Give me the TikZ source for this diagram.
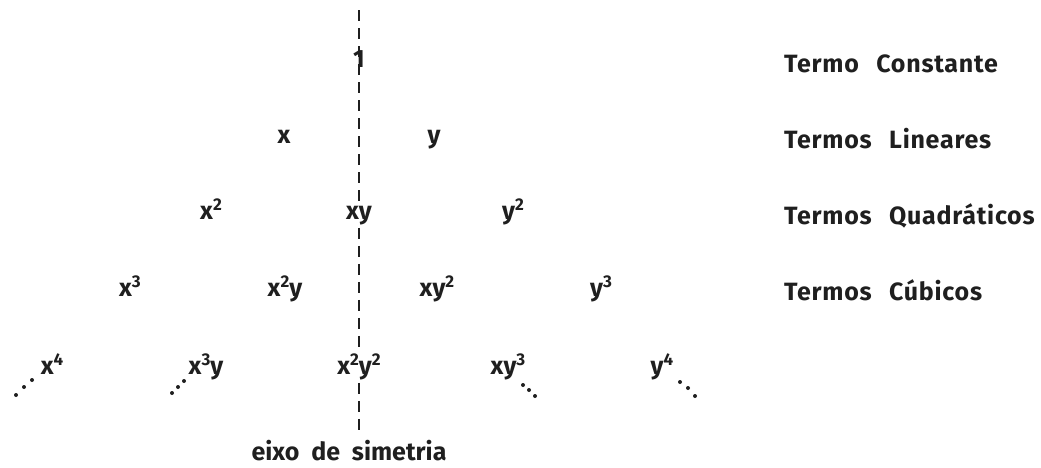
\documentclass[tikz,border=0pt]{standalone}
\usepackage{fontspec}
\setmainfont{Fira Sans}
\newcommand{\supr}[1]{\raisebox{9pt}{\fontsize{17}{17}\selectfont #1}}
\begin{document}
\begin{tikzpicture}[x=1pt,y=-1pt,
  term/.style={anchor=base,inner sep=1pt,font=\fontsize{25}{30}\selectfont\bfseries,text=black!88},
  axisterm/.style={term,inner sep=3pt},
  label/.style={anchor=base west,inner sep=0pt,font=\fontsize{25}{30}\selectfont\bfseries\addfontfeature{LetterSpace=3},text=black!88},
  axisline/.style={line width=1.8pt,dash pattern=on 11pt off 7pt,black!88},
  dotmark/.style={fill=black!88,draw=none}]
\useasboundingbox (0,0) rectangle (1041,467);
% row 0
\node[term] (c1) at (359,67) {1};
% row 1
\node[term] (r1x) at (284,143) {x};
\node[term] (r1y) at (434,143) {y};
% row 2
\node[term] (r2a) at (211,219) {x\supr{2}};
\node[axisterm] (r2b) at (359,219) {xy};
\node[term] (r2c) at (513,219) {y\supr{2}};
% row 3
\node[term] (r3a) at (130,296) {x\supr{3}};
\node[term] (r3b) at (285,296) {x\supr{2}y};
\node[term] (r3c) at (437,296) {xy\supr{2}};
\node[term] (r3d) at (601,296) {y\supr{3}};
% row 4
\node[term] (r4a) at (52,374) {x\supr{4}};
\node[term] (r4b) at (206,374) {x\supr{3}y};
\node[axisterm] (r4c) at (359,374) {x\supr{2}y\supr{2}};
\node[term] (r4d) at (508,374) {xy\supr{3}};
\node[term] (r4e) at (662,374) {y\supr{4}};
% symmetry axis
\coordinate (axtop) at (359,10);
\coordinate (axbot) at (359,433);
\draw[axisline] (axtop) -- (r2b.north);
\draw[axisline] (r2b.south) -- (r4c.north);
\draw[axisline] (r4c.south) -- (axbot);
% continuation dots
\foreach \p in {(16,395),(24,387),(32,380),
                (172,393),(178,387),(184,381),
                (523,385),(529,390),(535,396),
                (680,382),(688,388),(695,396)}
  \fill[dotmark] \p circle (2pt);
% axis label
\node[term] (eixo) at (349,460) {eixo\ \ de\ \ simetria};
% row labels
\node[label] (l0) at (784,72) {Termo\hspace{0.7em}Constante};
\node[label] (l1) at (784,148) {Termos\hspace{0.7em}Lineares};
\node[label] (l2) at (784,224) {Termos\hspace{0.7em}Quadráticos};
\node[label] (l3) at (784,300) {Termos\hspace{0.7em}Cúbicos};
\end{tikzpicture}
\end{document}
